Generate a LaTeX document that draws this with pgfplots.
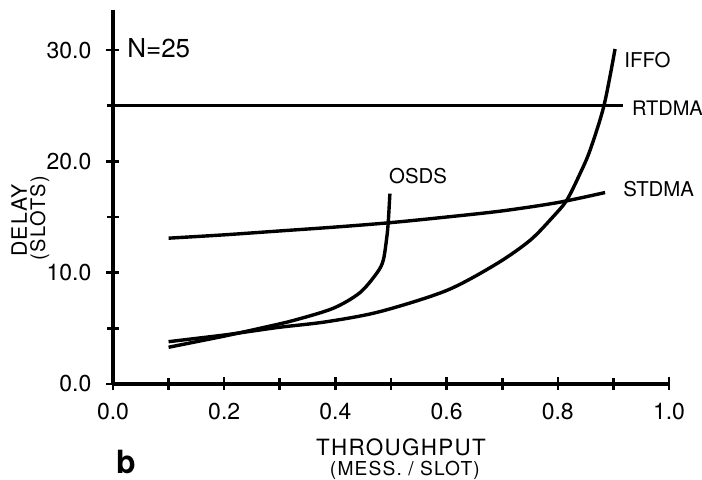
\documentclass[border=0pt]{standalone}
\usepackage{fontspec}
\setmainfont{TeX Gyre Heros}
\usepackage{pgfplots}
\pgfplotsset{compat=1.18}
\begin{document}
\begin{tikzpicture}
\begin{axis}[
  scale only axis, width=278pt, height=187pt,
  xmin=0, xmax=1, ymin=0, ymax=33.6,
  axis lines=left, axis line style={-, line width=1.9pt},
  clip=false,
  xtick={0,0.2,0.4,0.6,0.8,1.0},
  xticklabels={0.0,0.2,0.4,0.6,0.8,1.0},
  minor xtick={0.1,0.3,0.5,0.7,0.9},
  ytick={0,10,20,30},
  yticklabels={0.0,10.0,20.0,30.0},
  minor ytick={5,15,25},
  tick align=center,
  major tick length=6.5pt, minor tick length=6pt,
  tick style={line width=1.3pt, black},
  ticklabel style={font=\fontsize{11.5}{13}\selectfont},
  xticklabel style={yshift=-3pt},
  yticklabel style={xshift=-4pt},
]
  % RTDMA
  \addplot[line width=1.7pt] coordinates {(0,25) (0.917,25)};
  % STDMA
  \addplot[line width=1.7pt, smooth] coordinates {
    (0.1,13.1) (0.2,13.4) (0.3,13.75) (0.4,14.1) (0.5,14.5)
    (0.6,15.0) (0.7,15.55) (0.8,16.3) (0.885,17.2)};
  % IFFO
  \addplot[line width=1.7pt, smooth, tension=0.5] coordinates {
    (0.1,3.8) (0.15,4.1) (0.2,4.4) (0.25,4.75) (0.3,5.1) (0.385,5.6)
    (0.48,6.5) (0.6,8.4) (0.69,10.8) (0.75,12.9) (0.791,15.0)
    (0.816,16.5) (0.84,18.9) (0.858,21.0) (0.883,25) (0.903,30.1)};
  % OSDS
  \addplot[line width=1.7pt, smooth, tension=0.5] coordinates {
    (0.1,3.3) (0.15,3.8) (0.2,4.3) (0.264,5.0) (0.324,5.7) (0.396,6.8)
    (0.444,8.2) (0.475,10.0) (0.486,11.1) (0.492,13.0) (0.495,14.5)
    (0.498,17.1)};

  \node[anchor=base west, inner sep=0pt, font=\fontsize{13}{15}\selectfont] at (axis cs:0.025,29.3) {N=25};
  \node[anchor=base west, inner sep=0pt, font=\fontsize{10.2}{12}\selectfont] at (axis cs:0.919,28.4) {IFFO};
  \node[anchor=base west, inner sep=0pt, font=\fontsize{10}{12}\selectfont] at (axis cs:0.933,24.1) {RTDMA};
  \node[anchor=base west, inner sep=0pt, font=\fontsize{10.2}{12}\selectfont] at (axis cs:0.917,16.8) {STDMA};
  \node[anchor=base west, inner sep=0pt, font=\fontsize{10.2}{12}\selectfont] at (axis cs:0.496,18.0) {OSDS};

  \node[anchor=base, inner sep=0pt, font=\fontsize{11.2}{13}\selectfont\addfontfeatures{LetterSpace=6}] at (axis cs:0.518,-6.4) {THROUGHPUT};
  \node[anchor=base, inner sep=0pt, font=\fontsize{9.6}{12}\selectfont\addfontfeatures{LetterSpace=6}] at (axis cs:0.525,-8.25) {(MESS. / SLOT)};
  \node[anchor=base, inner sep=0pt, font=\fontsize{16}{18}\selectfont\bfseries] at (axis cs:0.023,-8.0) {b};
  \node[rotate=90, anchor=base, inner sep=0pt, font=\fontsize{10.6}{12}\selectfont\addfontfeatures{LetterSpace=6}] at (axis cs:-0.155,14.7) {DELAY};
  \node[rotate=90, anchor=base, inner sep=0pt, font=\fontsize{10}{12}\selectfont\addfontfeatures{LetterSpace=6}] at (axis cs:-0.122,14.9) {(SLOTS)};
\end{axis}
\pgfresetboundingbox
\useasboundingbox (-56.5pt,-48pt) rectangle (294.5pt,192pt);
\end{tikzpicture}
\end{document}
